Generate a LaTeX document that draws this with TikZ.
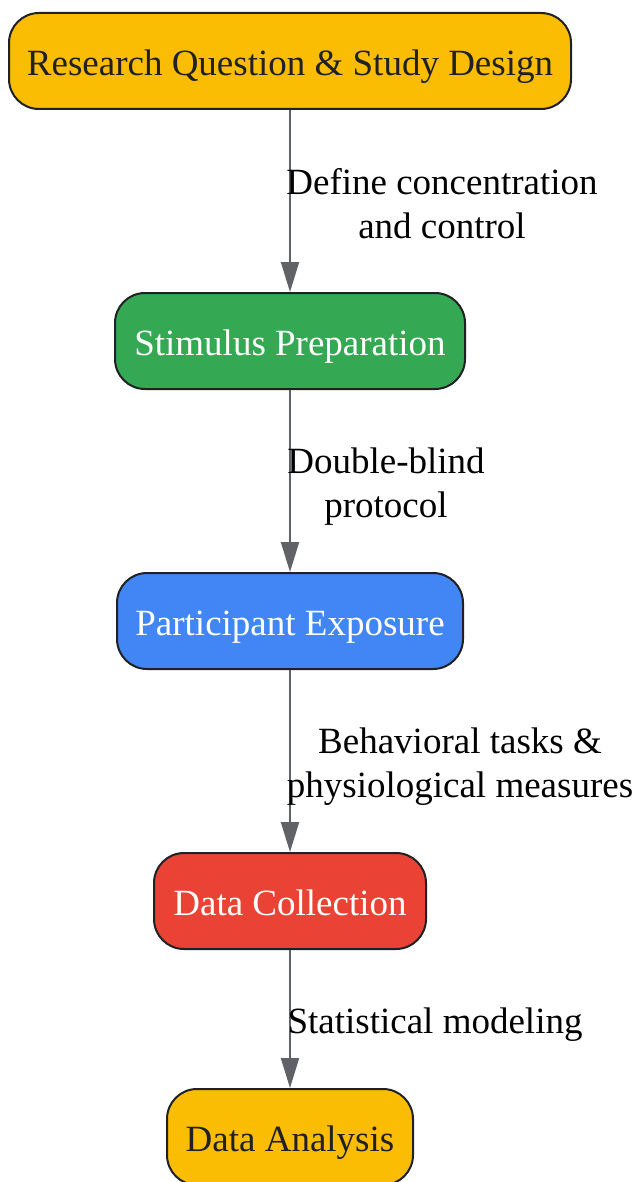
\documentclass[tikz,border=0pt]{standalone}
\usepackage{fontspec}
\setmainfont{Liberation Serif}
\usetikzlibrary{arrows.meta}
\definecolor{gyellow}{HTML}{FBBC04}
\definecolor{ggreen}{HTML}{34A853}
\definecolor{gblue}{HTML}{4285F4}
\definecolor{gred}{HTML}{EA4335}
\definecolor{gdark}{HTML}{202124}
\definecolor{garrow}{HTML}{5F6368}
\tikzset{
  box/.style={draw=gdark, line width=2pt, rounded corners=30pt, minimum height=96pt,
    inner sep=0pt, font=\fontsize{37}{44}\selectfont, align=center,
    text height=37pt, text depth=8pt},
  darktext/.style={text=gdark},
  lighttext/.style={text=white},
  arr/.style={draw=garrow, line width=2pt, -{Triangle[width=18pt,length=30pt]}},
  lbl/.style={font=\fontsize{37}{44}\selectfont, align=center, text=black, inner sep=0pt}
}
\begin{document}
\begin{tikzpicture}[x=1pt,y=-1pt]
\useasboundingbox (0,0) rectangle (638,1182);
\clip (0,0) rectangle (638,1182);
\node[box, darktext, fill=gyellow, minimum width=562pt] (n1) at (290,61) {Research Question \& Study Design};
\node[box, lighttext, fill=ggreen, minimum width=350pt] (n2) at (290,341) {Stimulus Preparation};
\node[box, lighttext, fill=gblue, minimum width=346pt] (n3) at (290,621) {Participant Exposure};
\node[box, lighttext, fill=gred, minimum width=272pt] (n4) at (290,901) {Data Collection};
\node[box, darktext, fill=gyellow, minimum width=246pt] (n5) at (290,1137) {Data Analysis};
\draw[arr] (n1.south) -- (n2.north);
\draw[arr] (n2.south) -- (n3.north);
\draw[arr] (n3.south) -- (n4.north);
\draw[arr] (n4.south) -- (n5.north);
\node[lbl] (l1) at (442,204) {Define concentration\\and control};
\node[lbl] (l2) at (386,487) {Double-blind\\protocol};
\node[lbl] (l3) at (460,767) {Behavioral tasks \&\\physiological measures};
\node[lbl] (l4) at (435,1025) {Statistical modeling};
\end{tikzpicture}
\end{document}
